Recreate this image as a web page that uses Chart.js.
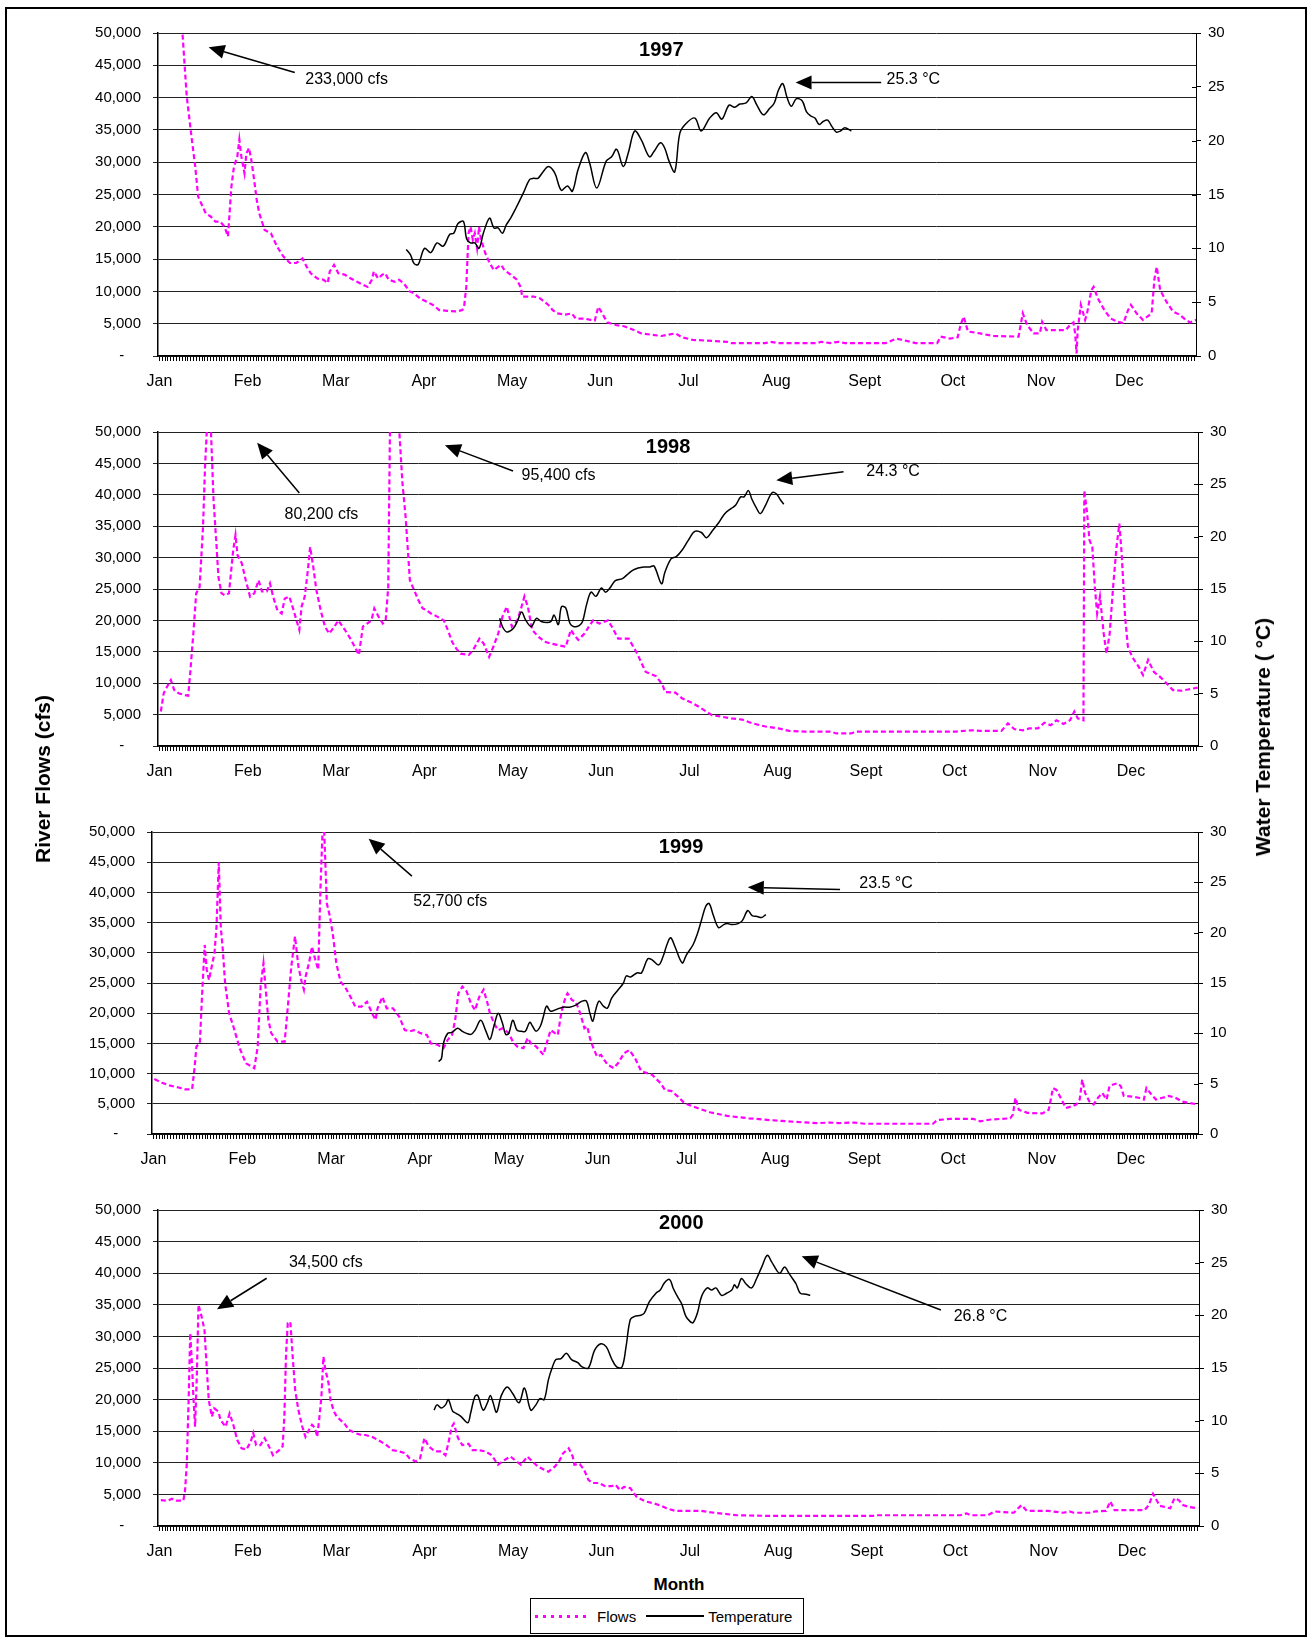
<!DOCTYPE html>
<html>
<head>
<meta charset="utf-8">
<title>River Flows and Water Temperature 1997-2000</title>
<script src="https://cdn.jsdelivr.net/npm/chart.js@4.4.0/dist/chart.umd.min.js"></script>
<style>
  body { margin: 0; background: #fff; font-family: "Liberation Sans", Arial, sans-serif; color: #000; }
  #page { position: relative; width: 1309px; height: 1639px; overflow: hidden; }
  #frame { position: absolute; left: 5px; top: 7px; width: 1302px; height: 1630px; border: 2px solid #000; box-sizing: border-box; }
  canvas { position: absolute; left: 0; }
  .axisTitle { position: absolute; font-weight: bold; font-size: 21px; white-space: nowrap; transform: translate(-50%, -50%) rotate(-90deg); }
  #month { position: absolute; left: 679px; top: 1585px; transform: translate(-50%, -50%); font-weight: bold; font-size: 17px; }
  #legend { position: absolute; left: 530px; top: 1598px; width: 274px; height: 36px; border: 1px solid #000; box-sizing: border-box; display: flex; align-items: center; padding-left: 4px; font-size: 15px; }
  .swatch { display: inline-block; height: 2px; }
  .swatch.flows { width: 55px; margin-right: 7px; background: repeating-linear-gradient(90deg, #ff00ff 0 3px, transparent 3px 8px); height: 3px; }
  .swatch.temp { width: 58px; margin-left: 10px; margin-right: 4px; background: #000; height: 1.5px; }
</style>
</head>
<body>
<div id="page">
  <div id="frame"></div>
  <canvas id="c1997"></canvas>
  <canvas id="c1998"></canvas>
  <canvas id="c1999"></canvas>
  <canvas id="c2000"></canvas>
  <div class="axisTitle" style="left:43px; top:779px;">River Flows (cfs)</div>
  <div class="axisTitle" style="left:1263px; top:737px;">Water Temperature ( °C)</div>
  <div id="month">Month</div>
  <div id="legend"><span class="swatch flows"></span><span>Flows</span><span class="swatch temp"></span><span>Temperature</span></div>
</div>
<script>
//Month labels (Excel puts one every 31 days)
var monthLabels = ['Jan', 'Feb', 'Mar', 'Apr', 'May', 'Jun', 'Jul', 'Aug', 'Sept', 'Oct', 'Nov', 'Dec'];
var monthLabelDays = [0, 31, 62, 93, 124, 155, 186, 217, 248, 279, 310, 341];

//Flows in cfs, [day of year, value]
var flows1997 = [[1,233000],[8.1,50000],[9.6,40200],[11.4,33500],[12.6,29300],[13.6,24700],[14.4,23900],[16.3,22100],[18,21600],[19.7,20800],[21.4,20800],[22.9,20000],[24.1,18500],[25.3,26200],[26.2,29300],[27.4,30900],[28.1,33500],[28.8,30900],[29.9,28300],[30.6,31400],[31.5,32200],[32.3,30400],[33.3,27300],[34.2,24200],[35.1,22100],[37,19500],[39.2,19000],[41.4,16900],[43.6,15400],[45.9,14400],[48.1,14400],[50.3,15100],[51.8,13800],[53.2,12800],[55.5,12000],[57.7,11800],[59.2,11300],[59.9,13100],[61.4,14100],[62.9,12800],[65.1,12600],[67.3,12000],[69.5,11500],[71.7,11000],[73.2,10700],[74.7,11800],[75.4,13100],[76.9,12000],[78.4,12600],[79.4,12800],[80.6,11800],[82.8,11500],[84.3,11800],[85.8,11300],[88,10000],[89.5,9700],[91.7,8900],[94,8400],[96.2,7900],[98.4,7100],[101.3,7000],[104.3,6900],[106.5,7100],[107.2,7900],[107.9,10700],[108.7,19000],[109.4,20000],[110.2,18000],[110.9,19000],[111.7,16700],[112.4,20000],[113.1,18000],[114.6,15900],[116.1,14400],[117.6,13300],[119.1,13800],[120.2,14100],[121.3,13300],[123.5,12600],[125.7,11800],[127.2,10500],[127.5,9200],[131.6,9200],[133.9,8900],[135.3,8400],[136.8,7900],[138.3,7100],[139.8,6600],[142.7,6400],[145,6600],[146.4,5800],[149.4,5800],[151.6,5600],[153.1,5500],[154.3,7600],[155.3,6900],[157.5,5200],[160.5,4800],[163.4,4600],[166.4,4100],[169.4,3500],[173,3300],[176.5,3100],[181.5,3500],[183.7,2900],[187.5,2500],[199.6,2200],[201.1,2000],[213.1,2000],[214.6,2200],[217.7,2000],[231.2,2000],[232.7,2200],[235.8,2000],[238.8,2200],[241,2000],[255.4,2000],[259.1,2700],[262.1,2400],[265.9,2000],[273.5,2000],[274.7,3000],[278,2700],[280.7,2900],[281.7,4800],[282.8,6100],[284.3,3800],[288.5,3500],[293.1,3100],[302.1,3000],[303.6,6600],[305.1,4800],[307.4,3500],[309.6,3500],[310.4,5300],[311.9,4000],[318.7,4000],[320.2,4800],[321.4,5200],[322,3500],[322.5,400],[322.9,4000],[324,7900],[325.5,5600],[326.2,6600],[327.7,10200],[328.5,10700],[330,8900],[332.3,7100],[334.5,5800],[336.8,5300],[339,5100],[340.6,7100],[341.6,7900],[343.6,6600],[345.8,5600],[347.4,6100],[348.9,6600],[349.9,12000],[350.7,13800],[351.9,10200],[354.1,8400],[356.4,6900],[358.7,6400],[360.9,5600],[362.4,5200],[364.7,5600]];
var flows1998 = [[0.5,5500],[1.5,8400],[3,9700],[4,10500],[5.2,8900],[6.7,8400],[8.9,8100],[10.1,8000],[10.8,11600],[11.9,17900],[12.9,24300],[14.1,25300],[15.3,34900],[16,44400],[16.6,50000],[17.3,80200],[18.1,50000],[19,39100],[20,32200],[20.7,26900],[21.8,24300],[23,24000],[24.4,24300],[25.2,28000],[25.9,31200],[26.7,33600],[27.4,30400],[28.9,29100],[30.3,26400],[31.8,23800],[33.3,24300],[34.8,26400],[36,24600],[37.7,24600],[38.8,25900],[39.9,23800],[41.4,21600],[42.9,21100],[44,23500],[45.6,23800],[47.1,21600],[48.1,20000],[49.1,18500],[49.9,22200],[51,23800],[52.1,28000],[52.9,31700],[54,28500],[55.1,24800],[56.6,21600],[58.1,19000],[59.6,17900],[61.4,19000],[62.8,20000],[65.1,18500],[67.3,16900],[70,14500],[71.4,19000],[72.9,19500],[74.4,20000],[75.4,21900],[76.9,20600],[78.4,19500],[79.4,20000],[80.3,25300],[80.9,50000],[82.5,95400],[84.2,50000],[85.3,41800],[86.4,36500],[87.9,26400],[89.4,24800],[90.9,23200],[92.4,21900],[93.8,21600],[95.3,21100],[97.5,20600],[99.8,20000],[101.2,18500],[102.7,16600],[104.2,15500],[105.7,14700],[108.6,14500],[110.1,15300],[112.3,17100],[113.8,16300],[115.7,14200],[117.2,15800],[118.9,17900],[120.4,20600],[121.9,22200],[123.7,19000],[125.6,20000],[127.1,22200],[128.1,23800],[129.3,22200],[130.8,18500],[133,17400],[135.2,16600],[137.4,16300],[139.6,16100],[142.6,15800],[144.4,18500],[145.5,17700],[147,16900],[149.2,17900],[150.7,19000],[152.2,20000],[154.4,19500],[157.4,20000],[158.8,19000],[161,17100],[164.7,17100],[167.7,14700],[169.2,13200],[170.7,11800],[174.4,11100],[176.6,9700],[177.4,8600],[181.1,8500],[183.4,7600],[187.2,6800],[190.2,6000],[193.9,4900],[196.9,4700],[200.7,4400],[204.5,4200],[208.2,3600],[212.7,3100],[217.3,2800],[221,2400],[226.3,2300],[235.3,2300],[237.6,2000],[242.8,2000],[244.4,2300],[279.7,2300],[285,2500],[288,2400],[295.5,2400],[297.8,3600],[300,2700],[303,2500],[305.3,2800],[308.3,2800],[310.6,3700],[312.8,3300],[314.8,4100],[317.3,3500],[319.6,4100],[321.1,5500],[322.3,4400],[323.8,4200],[324.3,4100],[324.6,40700],[325.6,37000],[326.4,32800],[327.4,31700],[328.3,25300],[329.1,21100],[330.1,23800],[331.4,17900],[332.4,14700],[333.5,17900],[334.7,25300],[335.9,31700],[336.9,35400],[337.7,30700],[338.9,20600],[339.9,15800],[341.4,14200],[343.7,12600],[345.2,11300],[347,13700],[349,11800],[351.2,11000],[353,10200],[355.7,8900],[358.7,8800],[361,9000],[363.2,9200],[364.4,9300]];
var flows1999 = [[0.3,9100],[3,8500],[5.9,8000],[8.8,7700],[11,7400],[13.5,7400],[14.4,11200],[15,14500],[16.2,15000],[17,23300],[17.9,31300],[18.6,27200],[19.4,25500],[20.1,27200],[21.3,29900],[22,34300],[22.8,45000],[23.5,34300],[24.2,30500],[25,25000],[26.4,20000],[27.9,17800],[30.1,14200],[32.3,11700],[35.2,10900],[36.4,14500],[37.4,24400],[38.4,28300],[39.3,23300],[40.1,18900],[41.1,16700],[43.3,15300],[45.8,15300],[47,21600],[48.1,27700],[49.4,32700],[50.6,27700],[51.8,25000],[52.5,23900],[53.1,26100],[54.3,28300],[55.3,31000],[56.5,28800],[57.5,27200],[58.3,40900],[59,50000],[59.3,52700],[59.6,50000],[60.5,38200],[61.6,36000],[62.7,32700],[63.8,28300],[65.3,25200],[66.8,24400],[69,22500],[70.4,21100],[72.6,21100],[74.5,21900],[76.3,20000],[77.5,18900],[78.2,20800],[79.9,22700],[81.4,20800],[83.6,20800],[85.8,19400],[87.7,17200],[89.5,17000],[90.9,17200],[93.2,16700],[95.4,16400],[96.8,15000],[99,14800],[101.2,14200],[102.7,15600],[104.2,16400],[105.3,18900],[106.4,23300],[107.8,24400],[109.3,23600],[110.8,21600],[112.2,20500],[113.7,22700],[115.2,23900],[116.6,21600],[117.4,20000],[119.1,18100],[120.3,17200],[121.8,17500],[124,16700],[125.4,15300],[126.9,14500],[129.1,14200],[130.6,15900],[131.7,15000],[133.5,14500],[135,13700],[136.1,13100],[137.2,15000],[138.6,17200],[140.1,16700],[141.1,16400],[142.3,20000],[143.8,22700],[144.5,23300],[146,22200],[147.4,21900],[148.9,20000],[150.4,17500],[151.4,17800],[152.3,15900],[153.3,14500],[154.8,12800],[156.2,13100],[158.4,11500],[160.6,10900],[162.1,11700],[164.3,13400],[166.1,13900],[168,12600],[170.2,10400],[174,9800],[177,8400],[178.5,7300],[180.8,7100],[183,6200],[185.3,5100],[189.8,4300],[194.2,3600],[200.2,3000],[207.7,2600],[215.2,2300],[224.2,2000],[231.6,1800],[236.1,1900],[239.1,1800],[244.4,1900],[248.1,1700],[272,1700],[273.5,2300],[278,2500],[286.2,2500],[288.5,2100],[292.2,2400],[299,2600],[299.9,3200],[300.8,6000],[302,4000],[305,3500],[310.2,3400],[312.4,4000],[313.9,7600],[315.1,7300],[316.9,5700],[318.4,4300],[320.6,4600],[322.1,4900],[323.2,5700],[324.1,9000],[325.1,6800],[326.6,5400],[328.1,4900],[329.6,6000],[331.1,6800],[332.6,5700],[333.6,7900],[334.9,8200],[336.4,8400],[337.6,7900],[338.6,6300],[341.6,6200],[343.8,6000],[345.6,5700],[346.5,7600],[348.3,6500],[349.8,5700],[352.1,6000],[354.3,6300],[356.6,6000],[358.8,5400],[361.8,5100],[364.5,4900]];
var flows2000 = [[0.5,4100],[3,4000],[4.4,4300],[5.9,4000],[8.4,4000],[9,5700],[9.6,9900],[10.3,21000],[10.8,30500],[11.4,25700],[11.9,20500],[12.5,15700],[13.1,23600],[13.7,35000],[14.8,33100],[15.8,31000],[16.5,25700],[17.3,19900],[18.4,17300],[19.2,18600],[20.7,18100],[21.4,16800],[23.2,15700],[24.6,17800],[25.8,16200],[27.3,13600],[28.8,12300],[30.5,12100],[32,13300],[32.9,14700],[33.9,12800],[35.4,12800],[36.9,13900],[38.4,12600],[39.8,11200],[42,12000],[43.2,12600],[43.8,17300],[44.4,27300],[45,32100],[45.9,32300],[46.8,26300],[47.6,21500],[48.7,18400],[50.1,15700],[51.2,14100],[52.4,15200],[53.5,16000],[54.6,15500],[55.3,14100],[56,16800],[56.8,20500],[57.5,26800],[58.2,24700],[59.3,22600],[60,19900],[61.2,18100],[62.2,17300],[63.4,16800],[64.9,16200],[66.4,15200],[68.6,14700],[70.8,14400],[72.2,14400],[74.5,14100],[76.7,13600],[78.2,13200],[79.6,12800],[81.8,12000],[84,11800],[86.3,11500],[87.7,10700],[89.9,10200],[91.4,10700],[92.9,13900],[94.4,12600],[96.6,11800],[98.8,11800],[100.3,11200],[101.3,13100],[102.5,15700],[103.2,16200],[104.7,13900],[106.2,12800],[108.4,13000],[109.8,12000],[112,12000],[114.3,11800],[116.5,11200],[118.7,9700],[120.9,10400],[123.1,11000],[124.9,10300],[126.8,9700],[129,11000],[130.8,10200],[132.7,9400],[134.9,8900],[136.4,8600],[138.6,9400],[140.1,10200],[141.5,11500],[143.5,12300],[144.9,11000],[145.5,9700],[147.4,9800],[148.9,8900],[150.4,7300],[151.8,6800],[154.1,6800],[156.3,6300],[158.5,6300],[160,6500],[161.4,5700],[162.9,6200],[165.1,6000],[167.3,4600],[170.3,3900],[173.2,3600],[175.9,3200],[177.8,2800],[180.8,2400],[189.8,2400],[194.4,2100],[202.6,1700],[213.9,1600],[250.7,1600],[251.5,1700],[280.8,1700],[283,2000],[284.5,1700],[290.5,1700],[292.8,2300],[299.6,2100],[301.1,2800],[302.3,3300],[304.1,2400],[311.6,2400],[313.1,2300],[316.8,2100],[319.1,2300],[320.6,2100],[326.6,2100],[328.1,2300],[331.9,2400],[333.4,3900],[334.9,2500],[345.4,2500],[346.9,3300],[348.4,5100],[350.7,3200],[354.4,2800],[355.9,4400],[357.4,4100],[358.9,3300],[361.2,3000],[364.2,2800]];

//Water temperature in deg C, [day of year, value]
var temps1997 = [[86.8,9.9],[88.3,9.4],[89.5,8.6],[91,8.5],[93.2,10],[95.4,9.6],[97.6,10.5],[99.8,10.2],[102.1,11.3],[103.5,11.4],[105,12.3],[106.9,12.5],[108,10.9],[109.4,10.5],[110.9,10.5],[112.4,10],[113.9,11.4],[116.1,12.8],[117.6,11.9],[119.1,11.9],[120.6,11.4],[122,12.2],[123.5,12.8],[125.3,13.7],[127.9,15.1],[130.2,16.4],[131.6,16.5],[133.1,16.5],[134.6,17],[136.8,17.6],[139,17],[141.3,15.4],[143.5,15.8],[145.2,15.3],[147.2,17.3],[149.8,18.9],[151.3,17.9],[153.8,15.6],[157.1,18.1],[159,18.5],[160.8,19.2],[163.1,17.6],[164.9,18.9],[167.1,20.9],[169.4,20.1],[172.3,18.5],[173.9,19],[176.2,19.8],[177.7,19.3],[179.2,18.1],[181.2,17.1],[183,20.7],[185.2,21.6],[188.3,22.1],[190.5,20.9],[193.5,22.1],[195.8,22.6],[197.8,22],[200.3,23.3],[202.3,23.1],[204.1,23.4],[206.3,23.5],[208.3,24.1],[210.1,23.3],[212.4,22.4],[214.6,23],[216.2,23.5],[217.7,24.7],[219.2,25.3],[220.7,24],[222.2,23.2],[224,23.9],[226,23.7],[227.5,22.7],[229,22.3],[230.5,22.1],[232,21.5],[233.5,21.8],[235,21.9],[236.5,21.3],[238,20.8],[239.5,20.9],[241,21.2],[243.3,20.9]];
var temps1998 = [[119.4,12.2],[120.4,11.4],[121.9,10.9],[124.1,11.2],[125.6,11.9],[127.1,12.8],[128.6,12],[130.5,11.4],[132.3,12.2],[134,11.9],[136,11.8],[137.4,11.9],[138.5,12.5],[140,11.6],[141.1,13.3],[142.6,13.2],[144.1,11.7],[145.5,11.4],[147.3,11.5],[148.5,11.9],[150,13.6],[151.5,14.7],[153.2,14.3],[155.1,15.1],[156.6,14.7],[158.1,15.1],[160,15.8],[162.5,16],[164.7,16.5],[166.2,16.8],[168,17],[170,17.1],[172.1,17.1],[173.6,17.2],[176.2,15.5],[177.4,16.6],[179.6,17.9],[181.4,18.1],[183.4,18.7],[185.7,19.7],[187.9,20.5],[190.2,20.4],[192,19.9],[193.9,20.5],[196.2,21.3],[198.4,22.2],[200.7,22.7],[202.2,23],[204,23.8],[205.2,23.8],[206.7,24.4],[207.9,23.6],[209.4,22.8],[210.9,22.2],[212.7,23],[215,24.2],[216.5,24.1],[218,23.5],[219.1,23.1]];
var temps1999 = [[99.5,7.2],[100.5,7.5],[101.2,9],[102.7,10],[104.2,10.1],[106.1,10.5],[107.8,10.2],[109.3,10],[110.8,9.9],[112.2,10.3],[114.2,11.3],[115.9,10.3],[117.4,9.4],[118.8,10.7],[120.3,12],[121.8,11],[122.9,9.9],[124,10],[125.4,11.3],[126.9,10.3],[128.4,10.2],[129.8,10.2],[131.3,11.1],[132.3,10.7],[133.5,10.2],[135,10.7],[136.1,11.7],[137.2,12.7],[138.6,12.2],[140.8,12.4],[143,12.6],[145.2,12.6],[147.4,12.8],[149.6,13.2],[151.1,13.2],[152.3,12],[153.3,11.2],[154.3,12.3],[155.5,13.2],[157,12.7],[158.4,12.5],[159.9,13.5],[162.1,14.3],[164,15],[165,15.7],[166.5,15.6],[168.7,16],[170.3,16],[172.5,17.4],[174,17.3],[176.3,16.8],[177.8,17.6],[179.3,18.9],[180.5,19.5],[182,18.6],[184.5,17],[186,17.8],[188.3,18.8],[189.7,19.8],[191.2,21.2],[192.7,22.6],[193.9,22.9],[195.4,21.7],[197.2,20.5],[199,20.8],[200.2,20.9],[202,20.8],[204,20.9],[205.5,21.2],[207.4,22.2],[208.9,21.7],[210.7,21.6],[212.2,21.5],[213.7,21.8]];
var temps2000 = [[96.3,11],[97.3,11.5],[98.8,11.2],[100.3,11.5],[101.3,12],[102.8,10.9],[104,10.7],[105.7,10.4],[108.1,9.8],[109.1,10.7],[110.6,12.3],[111.6,12.4],[113.5,11],[115,11.7],[116,12.4],[116.9,11.8],[118.2,10.8],[119.9,12.4],[121.9,13.2],[123.8,12.6],[126.1,11.7],[128,13.1],[130.2,11],[132,11.5],[133.4,12.1],[134.9,12],[136.4,13.9],[137.8,15.1],[139,15.8],[140.8,15.9],[142.7,16.4],[144.5,15.8],[146.7,15.5],[148.2,15.1],[150.4,15],[152.6,16.7],[154.8,17.3],[156.7,17],[158.5,15.9],[160.3,15.1],[162.2,15.1],[163.6,17],[165.1,19.6],[166.6,19.9],[168.8,20],[170,20.2],[171.8,21.3],[174.1,22.1],[175.6,22.4],[177.1,23.1],[178.9,23.4],[180.1,22.6],[181.6,21.8],[183.1,21.1],[184.6,19.9],[186.1,19.4],[187.1,19.3],[188.6,20.2],[190.1,21.8],[192.1,22.6],[193.6,22.4],[195.1,22.6],[197.1,21.9],[198.9,22.1],[200.7,22.4],[201.6,22.9],[202.6,22.6],[204.1,23.5],[205.6,23],[207.6,22.6],[209.4,23.5],[211.2,24.6],[213.1,25.7],[214.6,25.1],[216.6,24.2],[217.6,24],[219.2,24.6],[220.7,24],[222.2,23.4],[223.2,23],[224.7,22.1],[226.7,22],[228.2,21.9]];

//Panel titles and arrow notes, placed in (day, axis value)
var notes1997 = { title: '1997', titleAt: [176.5, 47300], arrows: [
  { axis: 'y', from: [47.6, 43900], to: [17.3, 47800], text: '233,000 cfs', textAt: [51.3, 42800] },
  { axis: 'y1', from: [253.8, 25.4], to: [223.7, 25.4], text: '25.3 °C', textAt: [255.7, 25.7] } ] };
var notes1998 = { title: '1998', titleAt: [178.5, 47500], arrows: [
  { axis: 'y', from: [49.1, 40300], to: [34.3, 48300], text: '80,200 cfs', textAt: [43.9, 36900] },
  { axis: 'y', from: [124.1, 43800], to: [100.2, 47900], text: '95,400 cfs', textAt: [127.1, 43100] },
  { axis: 'y1', from: [240.1, 26.2], to: [216.5, 25.4], text: '24.3 °C', textAt: [248.1, 26.2] } ] };
var notes1999 = { title: '1999', titleAt: [184.1, 47500], arrows: [
  { axis: 'y', from: [90.2, 42700], to: [75.1, 48900], text: '52,700 cfs', textAt: [90.7, 38400] },
  { axis: 'y1', from: [239.6, 24.3], to: [207.4, 24.5], text: '23.5 °C', textAt: [246.3, 24.9] } ] };
var notes2000 = { title: '2000', titleAt: [183, 47900], arrows: [
  { axis: 'y', from: [37.6, 39200], to: [20.2, 34300], text: '34,500 cfs', textAt: [45.4, 41700] },
  { axis: 'y1', from: [274, 20.5], to: [225.2, 25.6], text: '26.8 °C', textAt: [278.5, 19.9] } ] };

//Plot area edges on the page for each panel
var panels = [
  { id: 'c1997', flows: flows1997, temps: temps1997, notes: notes1997, top: 33, bottom: 356, left: 158, right: 1196 },
  { id: 'c1998', flows: flows1998, temps: temps1998, notes: notes1998, top: 432, bottom: 746, left: 158, right: 1198 },
  { id: 'c1999', flows: flows1999, temps: temps1999, notes: notes1999, top: 832, bottom: 1134, left: 152, right: 1198 },
  { id: 'c2000', flows: flows2000, temps: temps2000, notes: notes2000, top: 1210, bottom: 1526, left: 158, right: 1199 }
];

var FONT = '"Liberation Sans", Arial, sans-serif';
Chart.defaults.font.family = FONT;
Chart.defaults.color = '#000';

var monthAt = {};
monthLabelDays.forEach(function (d, i) { monthAt[d] = monthLabels[i]; });

//one tick mark per day
var dayTicks = [];
for (var i = 0; i < 365; i++) { dayTicks.push({ value: i }); }

function drawArrow(ctx, x0, y0, x1, y1) {
  var a = Math.atan2(y1 - y0, x1 - x0);
  var len = 16, half = 7;
  var bx = x1 - len * Math.cos(a), by = y1 - len * Math.sin(a);
  ctx.lineWidth = 1.5;
  ctx.beginPath();
  ctx.moveTo(x0, y0);
  ctx.lineTo(bx, by);
  ctx.stroke();
  ctx.beginPath();
  ctx.moveTo(x1, y1);
  ctx.lineTo(bx + half * Math.sin(a), by - half * Math.cos(a));
  ctx.lineTo(bx - half * Math.sin(a), by + half * Math.cos(a));
  ctx.closePath();
  ctx.fill();
}

//Draws panel title, arrows and their labels
function makeNotes(note) {
  return {
    id: 'notes',
    afterDatasetsDraw: function (chart) {
      var ctx = chart.ctx, sx = chart.scales.x, st = chart.scales.y1;
      ctx.save();
      ctx.fillStyle = '#000';
      ctx.strokeStyle = '#000';

      //right axis tick marks cross the axis line
      ctx.lineWidth = 1;
      st.ticks.forEach(function (t) {
        var py = Math.round(st.getPixelForValue(t.value)) + 0.5;
        ctx.beginPath();
        ctx.moveTo(st.left - 4, py);
        ctx.lineTo(st.left, py);
        ctx.stroke();
      });

      ctx.font = 'bold 20px ' + FONT;
      ctx.textAlign = 'center';
      ctx.textBaseline = 'middle';
      ctx.fillText(note.title, sx.getPixelForValue(note.titleAt[0]), chart.scales.y.getPixelForValue(note.titleAt[1]));
      ctx.font = '16px ' + FONT;
      ctx.textAlign = 'left';
      note.arrows.forEach(function (a) {
        var sy = chart.scales[a.axis];
        drawArrow(ctx, sx.getPixelForValue(a.from[0]), sy.getPixelForValue(a.from[1]),
          sx.getPixelForValue(a.to[0]), sy.getPixelForValue(a.to[1]));
        ctx.fillText(a.text, sx.getPixelForValue(a.textAt[0]), sy.getPixelForValue(a.textAt[1]));
      });
      ctx.restore();
    }
  };
}

function toPoints(list) {
  return list.map(function (p) { return { x: p[0], y: p[1] }; });
}

function makeChart(p) {
  var canvas = document.getElementById(p.id);
  canvas.width = 1309;
  canvas.height = p.bottom - p.top + 70;
  canvas.style.top = (p.top - 25) + 'px';

  new Chart(canvas.getContext('2d'), {
    type: 'line',
    data: {
      datasets: [{
        label: 'Flows',
        data: toPoints(p.flows),
        yAxisID: 'y',
        borderColor: '#ff00ff',
        borderWidth: 2.2,
        borderDash: [5, 3],
        pointRadius: 0,
        tension: 0,
        clip: 0,
        order: 1
      }, {
        label: 'Temperature',
        data: toPoints(p.temps),
        yAxisID: 'y1',
        borderColor: '#000',
        borderWidth: 1.5,
        pointRadius: 0,
        tension: 0.35,
        order: 0
      }]
    },
    options: {
      responsive: false,
      animation: false,
      events: [],
      layout: { padding: { top: 25, bottom: 0, left: 0, right: 0 } },
      plugins: { legend: { display: false }, tooltip: { enabled: false } },
      scales: {
        x: {
          type: 'linear', min: -0.5, max: 364.5,
          afterBuildTicks: function (scale) { scale.ticks = dayTicks.slice(); },
          afterFit: function (scale) { scale.height = 45; },
          grid: { drawOnChartArea: false, tickLength: 5, color: '#000', lineWidth: 1 },
          border: { color: '#000', width: 1.5 },
          ticks: {
            autoSkip: false, maxRotation: 0, padding: 11, font: { size: 16 },
            callback: function (v) { return monthAt[v] || ''; }
          }
        },
        y: {
          position: 'left', min: 0, max: 50000,
          afterFit: function (scale) { scale.width = p.left; },
          grid: { color: '#222', lineWidth: 1, tickLength: 5 },
          border: { color: '#000', width: 1.5 },
          ticks: {
            stepSize: 5000, padding: 12, font: { size: 15 },
            callback: function (v) { return v === 0 ? '-    ' : v.toLocaleString('en-US'); }
          }
        },
        y1: {
          position: 'right', min: 0, max: 30,
          afterFit: function (scale) { scale.width = 1309 - p.right; },
          grid: { drawOnChartArea: false, tickLength: 5, color: '#000' },
          border: { color: '#000', width: 1 },
          ticks: { stepSize: 5, padding: 7, font: { size: 15 } }
        }
      }
    },
    plugins: [makeNotes(p.notes)]
  });
}

panels.forEach(makeChart);
</script>
</body>
</html>
